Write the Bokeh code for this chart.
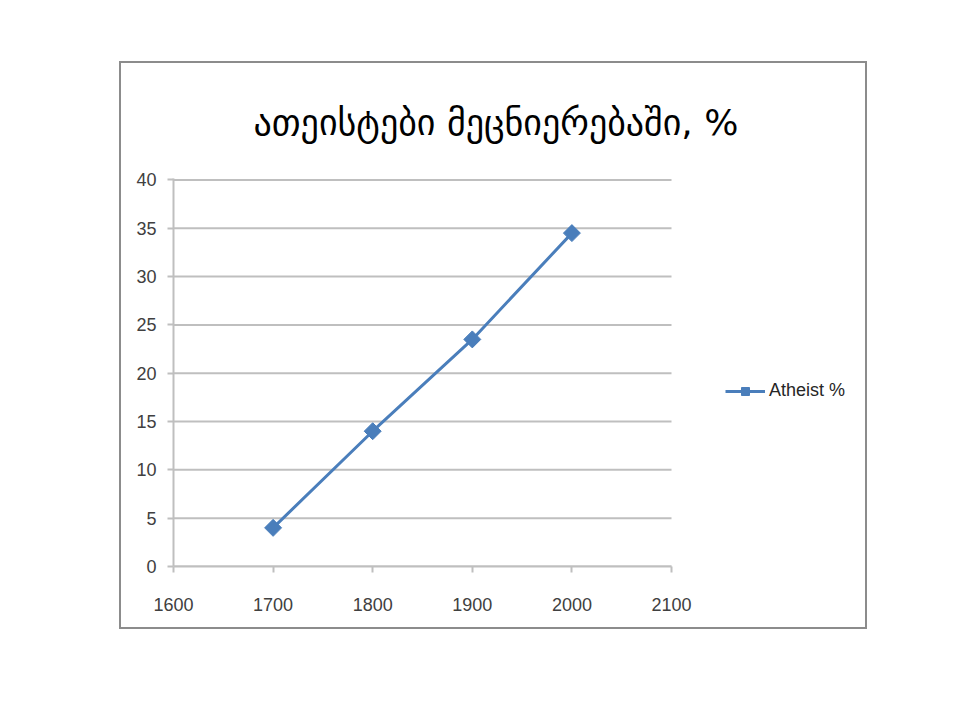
import math
from bokeh.plotting import figure
from bokeh.models import Legend, LegendItem, Range1d, FixedTicker
from bokeh.embed import file_html
from bokeh.resources import INLINE

years = [1700, 1800, 1900, 2000]
atheist_pct = [4, 14, 23.5, 34.5]
x_ticks = [1600, 1700, 1800, 1900, 2000, 2100]
y_ticks = [0, 5, 10, 15, 20, 25, 30, 35, 40]
title_text = "ათეისტები მეცნიერებაში, %"
series_name = "Atheist %"

BLUE = "#4a7ebb"
GRID = "#bfbfbf"

W, H = 748, 568
LEFT, TOP, BOTTOM = 52, 115, 65
AXIS_PX = 498  # pixel length of the 1600-2100 axis
frame_w = W - LEFT
x_start, x_stop = x_ticks[0], x_ticks[-1]
x_end = x_start + (x_stop - x_start) * frame_w / AXIS_PX

p = figure(width=W, height=H, output_backend="svg", toolbar_location=None,
           x_range=Range1d(x_start, x_end), y_range=Range1d(0, 40.15),
           min_border_left=LEFT, min_border_right=0, min_border_top=TOP, min_border_bottom=BOTTOM)
p.styles = {"margin-left": "119px", "margin-top": "61px", "border": "2px solid #8c8c8c"}
p.outline_line_color = None
p.background_fill_color = "white"
p.border_fill_color = "white"

p.title.text = title_text
p.title.align = "left"
p.title.offset = 80
p.title.standoff = 72
p.title.text_font = "DejaVu Sans"
p.title.text_font_size = "36px"
p.title.text_font_style = "normal"
p.title.text_color = "black"

p.xgrid.grid_line_color = None
p.ygrid.grid_line_color = None

# horizontal gridlines limited to the axis extent
p.segment(x0=[x_start] * len(y_ticks), y0=y_ticks, x1=[x_stop] * len(y_ticks), y1=y_ticks,
          line_color=GRID, line_width=2, level="underlay")

for ax in (p.xaxis[0], p.yaxis[0]):
    ax.axis_line_color = GRID
    ax.axis_line_width = 2
    ax.major_tick_line_color = GRID
    ax.major_tick_line_width = 2
    ax.major_tick_in = 0
    ax.major_tick_out = 6
    ax.minor_tick_line_color = None
    ax.major_label_text_font = "Liberation Sans"
    ax.major_label_text_font_size = "18px"
    ax.major_label_text_color = "#404040"
p.xaxis[0].ticker = FixedTicker(ticks=x_ticks)
p.xaxis[0].bounds = (x_start, x_stop)
p.yaxis[0].ticker = FixedTicker(ticks=y_ticks)
p.xaxis[0].major_label_standoff = 25
p.yaxis[0].major_label_standoff = 11

ln = p.line(years, atheist_pct, line_color=BLUE, line_width=3)
sc = p.scatter(years, atheist_pct, marker="square", angle=math.pi / 4, size=12,
               fill_color=BLUE, line_color=BLUE)

legend = Legend(items=[LegendItem(label=series_name, renderers=[ln, sc])],
                location=(552, 165), padding=0, margin=0, border_line_color=None,
                background_fill_alpha=0, glyph_width=40, glyph_height=20, label_standoff=4,
                label_text_font="Liberation Sans", label_text_font_size="18px",
                label_text_color="#262626")
p.add_layout(legend, "center")

open("out.html", "w").write(file_html(p, INLINE))
